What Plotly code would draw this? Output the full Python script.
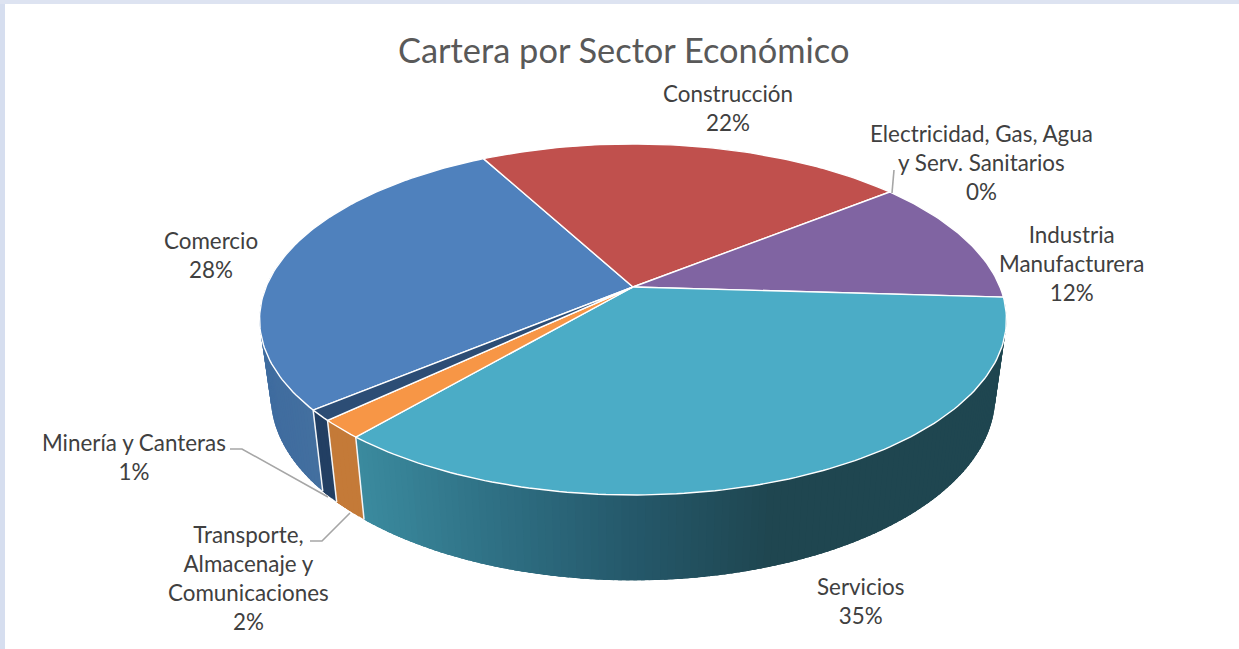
import numpy as np
import plotly.graph_objects as go

# ---- data ----
sectors = ["Comercio", "Construcción", "Electricidad, Gas, Agua y Serv. Sanitarios",
           "Industria Manufacturera", "Servicios", "Transporte, Almacenaje y Comunicaciones",
           "Minería y Canteras"]
values = [28.2, 22.1, 0, 11.7, 35.3, 1.7, 1.0]
pct_labels = ["28%", "22%", "0%", "12%", "35%", "2%", "1%"]

# ---- style ----
top_colors = ["#4f81bd", "#c0504d", "#9bbb59", "#8064a2", "#4bacc6", "#f79646", "#2c4d75"]
wall_stops = {
    0: ([260, 320], ["#3f6c9f", "#44709f"]),
    4: ([365, 500, 640, 780], ["#3b8a9e", "#2f7084", "#25586a", "#1f4650"]),
    5: ([330, 365], ["#c47a38", "#c47a38"]),
    6: ([320, 335], ["#223f63", "#223f63"]),
}
label_layout = [
    ("Comercio<br>28%", 211, 255),
    ("Construcción<br>22%", 728, 108),
    ("Electricidad, Gas, Agua<br>y Serv. Sanitarios<br>0%", 981, 162),
    ("Industria<br>Manufacturera<br>12%", 1071, 263),
    ("Servicios<br>35%", 860, 601),
    ("Transporte,<br>Almacenaje y<br>Comunicaciones<br>2%", 248, 578),
    ("Minería y Canteras<br>1%", 134, 457),
]
leaders = [
    ([230, 242, 328], [449, 449, 497]),
    ([310, 322, 350], [541, 541, 513]),
    ([894, 892], [170, 193]),
]
START = 230.2   # clock angle of the first slice
CX, AY, A, B, K = 633.0, 287.0, 367.0, 169.5, 0.185
SX_B, SY_B, Y0_B = 0.97, 1.05, 362.0


def top_xy(ang):
    t = np.radians(ang)
    X, Y = np.sin(t), np.cos(t)
    w = 1 + K * Y
    return CX + A * X / w, AY - B * Y / w


def bottom_xy(ang):
    x, y = top_xy(ang)
    return CX + SX_B * (x - CX), Y0_B + SY_B * (y - AY)


def hex2rgb(h):
    return np.array([int(h[i:i + 2], 16) for i in (1, 3, 5)], float)


def wall_color(i, x):
    xs, cs = wall_stops[i]
    rgb = np.array([hex2rgb(c) for c in cs])
    v = [np.interp(x, xs, rgb[:, k]) for k in range(3)]
    return "rgb(%d,%d,%d)" % tuple(v)


edges = START + np.cumsum([0] + values) * 3.6
fig = go.Figure()

# side wall, built from overlapping strips following each slice's arc
for i in wall_stops:
    a0, a1 = edges[i], edges[i + 1]
    if i == 0:
        a1 = 285.0
    if i == 4:
        a0 = max(a0, 92)
    n = max(2, int((a1 - a0) / 1.0))
    angs = np.linspace(a0, a1, n + 1)
    for p, q in zip(angs[:-1], angs[1:]):
        r = a1 if i in (5, 6) else min(a1, q + 1.5)
        tx, ty = top_xy(np.array([p, r]))
        bx, by = bottom_xy(np.array([r, p]))
        col = wall_color(i, float(top_xy(p)[0]))
        fig.add_trace(go.Scatter(
            x=list(tx) + list(bx) + [tx[0]], y=list(ty) + list(by) + [ty[0]],
            mode="lines", fill="toself", fillcolor=col,
            line=dict(color=col, width=0), hoverinfo="skip", showlegend=False))

# white seams between wall sections
for i in (4, 5, 6):
    a = edges[i + 1]
    tx, ty = top_xy(a)
    bx, by = bottom_xy(a)
    fig.add_trace(go.Scatter(x=[tx, bx], y=[ty, by], mode="lines",
                             line=dict(color="#f4f6f8", width=1.5),
                             hoverinfo="skip", showlegend=False))

# top faces
for i, name in enumerate(sectors):
    if values[i] == 0:
        continue
    n = max(4, int(values[i] * 3.6))
    angs = np.linspace(edges[i], edges[i + 1], n + 1)
    x, y = top_xy(angs)
    fig.add_trace(go.Scatter(
        x=[CX] + list(x) + [CX], y=[AY] + list(y) + [AY],
        mode="lines", fill="toself", fillcolor=top_colors[i], name=name,
        line=dict(color="#ffffff", width=1.4), showlegend=False,
        text=f"{name}: {pct_labels[i]}", hoverinfo="text"))

# leader lines
for lx, ly in leaders:
    fig.add_trace(go.Scatter(x=lx, y=ly, mode="lines",
                             line=dict(color="#a6a6a6", width=1.6),
                             hoverinfo="skip", showlegend=False))

annotations = [dict(x=lx, y=ly, text=t, xref="x", yref="y", showarrow=False,
                    xanchor="center", yanchor="middle",
                    font=dict(family="Lato", size=22.4, color="#404040"))
               for t, lx, ly in label_layout]
annotations.append(dict(x=623, y=49, text="Cartera por Sector Económico", xref="x", yref="y",
                        showarrow=False, xanchor="center", yanchor="middle",
                        font=dict(family="Lato", size=34.4, color="#595959")))

fig.update_layout(
    width=1239, height=649,
    margin=dict(l=0, r=0, t=0, b=0),
    paper_bgcolor="#ffffff", plot_bgcolor="#ffffff",
    autosize=False,
    xaxis=dict(range=[0, 1239], visible=False, fixedrange=True),
    yaxis=dict(range=[649, 0], visible=False, fixedrange=True),
    annotations=annotations,
    shapes=[
        dict(type="rect", xref="x", yref="y", x0=0, x1=5, y0=0, y1=649,
             fillcolor="#d6deef", line_width=0, layer="below"),
        dict(type="rect", xref="x", yref="y", x0=0, x1=1239, y0=0, y1=4,
             fillcolor="#dde3f1", line_width=0, layer="below"),
    ],
)
fig.write_html("out.html", config={"displayModeBar": False},
               post_script="document.body.style.margin='0';document.body.style.overflow='hidden';")
